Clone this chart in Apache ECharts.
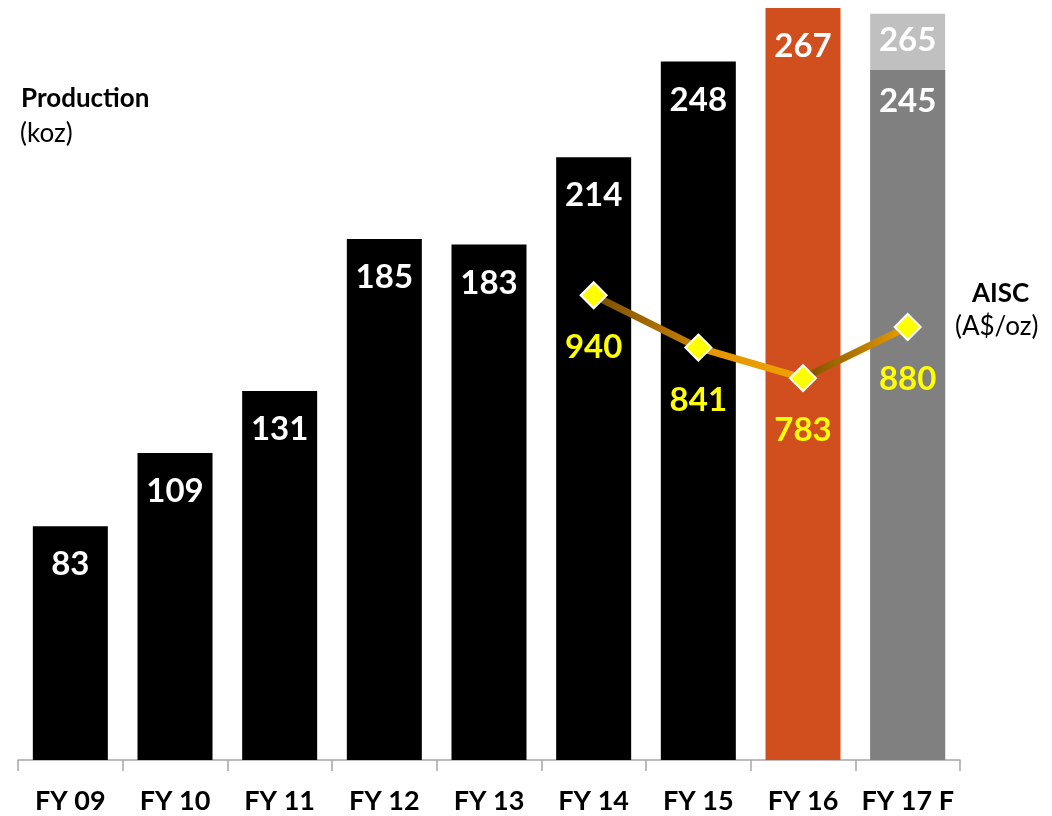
<!DOCTYPE html>
<html>
<head>
<meta charset="utf-8">
<script src="https://cdn.jsdelivr.net/npm/echarts@6/dist/echarts.min.js"></script>
<style>
  html, body { margin: 0; padding: 0; background: #fff; }
  #chart { width: 1052px; height: 816px; }
</style>
</head>
<body>
<div id="chart"></div>
<script>
// Annual gold production (koz) and all-in sustaining cost (A$/oz)
const categories = ['FY 09', 'FY 10', 'FY 11', 'FY 12', 'FY 13', 'FY 14', 'FY 15', 'FY 16', 'FY 17 F'];
const production = [83, 109, 131, 185, 183, 214, 248, 267, 245];
const guidanceUpper = [null, null, null, null, null, null, null, null, 265];
const aisc = [null, null, null, null, null, 940, 841, 783, 880];

const FONT = 'Lato, "Open Sans", sans-serif';
const barColors = ['#000000', '#000000', '#000000', '#000000', '#000000', '#000000', '#000000', '#D14E1E', '#808080'];
// The forecast bar sits under its guidance cap, so its label hugs the top a little tighter
const labelDistances = [22, 22, 22, 22, 22, 22, 22, 22, 15];

// One short line series per AISC segment so each segment carries its own shading
const segmentGradients = [
  ['#7A4C00', '#C98400'],
  ['#E39400', '#F0A200'],
  ['#7A4C00', '#F0A200']
];
const segmentSeries = [];
let segIdx = 0;
for (let i = 0; i < aisc.length - 1; i++) {
  if (aisc[i] == null || aisc[i + 1] == null) continue;
  const cols = segmentGradients[segIdx % segmentGradients.length];
  segIdx++;
  segmentSeries.push({
    type: 'line',
    yAxisIndex: 1,
    data: aisc.map((v, j) => (j === i || j === i + 1) ? v : null),
    showSymbol: false,
    silent: true,
    z: 5,
    lineStyle: {
      width: 7,
      color: {
        type: 'linear', x: 0, y: 0, x2: 1, y2: 0,
        colorStops: [{ offset: 0, color: cols[0] }, { offset: 1, color: cols[1] }]
      }
    }
  });
}

const chart = echarts.init(document.getElementById('chart'), null, { renderer: 'canvas' });

chart.setOption({
  animation: false,
  backgroundColor: '#ffffff',
  textStyle: { fontFamily: FONT },
  grid: { left: 18, right: 92, top: 8, bottom: 56, containLabel: false },
  xAxis: {
    type: 'category',
    data: categories,
    boundaryGap: true,
    axisLine: { show: true, lineStyle: { color: '#A6A6A6', width: 1.5 } },
    axisTick: { show: true, interval: 0, alignWithLabel: false, length: 11, lineStyle: { color: '#A6A6A6', width: 1.5 } },
    axisLabel: { interval: 0, color: '#000', fontWeight: 'bold', fontSize: 27, fontFamily: FONT, margin: 28 },
    splitLine: { show: false }
  },
  yAxis: [
    { type: 'value', min: 0, max: 267, show: false, splitLine: { show: false } },
    { type: 'value', min: 60, max: 1484, show: false, splitLine: { show: false } }
  ],
  graphic: [
    { type: 'text', left: 21, top: 86, style: { text: 'Production', font: 'bold 26px ' + FONT, fill: '#000' } },
    { type: 'text', left: 20, top: 121, style: { text: '(koz)', font: '26px ' + FONT, fill: '#000' } },
    { type: 'text', left: 972, top: 281, style: { text: 'AISC', font: 'bold 26px ' + FONT, fill: '#000' } },
    { type: 'text', left: 955, top: 314, style: { text: '(A$/oz)', font: '26px ' + FONT, fill: '#000' } }
  ],
  series: [
    {
      name: 'Guidance upper',
      type: 'bar',
      data: guidanceUpper,
      barWidth: 75,
      barGap: '-100%',
      itemStyle: { color: '#C0C0C0' },
      z: 1,
      label: {
        show: true, position: 'insideTop', distance: 10,
        color: '#fff', fontWeight: 'bold', fontSize: 33, fontFamily: FONT
      }
    },
    {
      name: 'Production',
      type: 'bar',
      data: production.map((v, i) => ({
        value: v,
        itemStyle: { color: barColors[i] },
        label: { distance: labelDistances[i] }
      })),
      barWidth: 75,
      barGap: '-100%',
      z: 2,
      label: {
        show: true, position: 'insideTop', distance: 22,
        color: '#fff', fontWeight: 'bold', fontSize: 33, fontFamily: FONT
      }
    },
    ...segmentSeries,
    {
      name: 'AISC',
      type: 'scatter',
      yAxisIndex: 1,
      data: aisc,
      symbol: 'diamond',
      symbolSize: [26, 26],
      z: 6,
      itemStyle: { color: '#FFFF00', borderColor: '#FFFFFF', borderWidth: 2, opacity: 1 },
      label: {
        show: true, position: 'bottom', distance: 22,
        color: '#FFFF00', fontWeight: 'bold', fontSize: 33, fontFamily: FONT, opacity: 1
      }
    }
  ]
});
</script>
</body>
</html>
